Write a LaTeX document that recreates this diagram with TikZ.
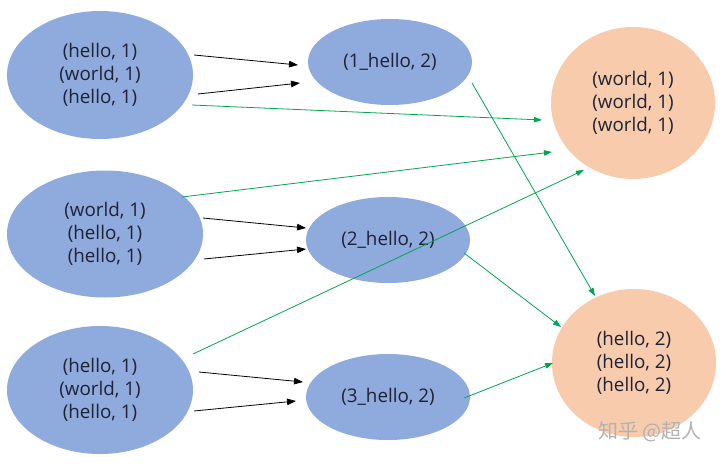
\documentclass[tikz,border=0pt]{standalone}
\usepackage{fontspec}
\setmainfont{Open Sans}
\newfontfamily\cjkfont{Noto Sans CJK SC}
\usetikzlibrary{shapes.geometric,arrows.meta}
\definecolor{ellblue}{HTML}{8FAADC}
\definecolor{ellorange}{HTML}{F8CBAD}
\definecolor{arrgreen}{HTML}{00A651}
\definecolor{txtdark}{HTML}{1E2235}
\tikzset{
  blob/.style={ellipse, draw=none, inner sep=0pt, align=center, text=txtdark,
    font=\fontsize{18.8}{22.8}\selectfont},
  src/.style={blob, fill=ellblue, minimum width=186pt, minimum height=128pt},
  mid/.style={blob, fill=ellblue, minimum width=164pt, minimum height=86pt},
  dst/.style={blob, fill=ellorange, minimum width=164pt, minimum height=150pt},
  blackarr/.style={draw=black, line width=0.8pt, -{Triangle[length=9pt,width=6.5pt]}},
  greenarr/.style={draw=arrgreen, line width=0.8pt, -{Triangle[length=8pt,width=5.5pt]}}
}
\begin{document}
\begin{tikzpicture}[x=1pt,y=-1pt]
\useasboundingbox (0,0) rectangle (725,463);
\fill[white] (0,0) rectangle (725,463);
% nodes
\node[src] (L1) at (100,75) {(hello, 1)\\(world, 1)\\(hello, 1)};
\node[src, minimum width=196pt, minimum height=127pt] (L2) at (105,234) {(world, 1)\\(hello, 1)\\(hello, 1)};
\node[src] (L3) at (100,390) {(hello, 1)\\(world, 1)\\(hello, 1)};
\node[mid] (M1) at (390,62) {(1\_hello, 2)};
\node[mid] (M2) at (388,240) {(2\_hello, 2)};
\node[mid] (M3) at (388,397) {(3\_hello, 2)};
\node[dst, minimum height=152pt] (R1) at (633,103) {(world, 1)\\(world, 1)\\(world, 1)};
\node[dst, minimum height=148pt] (R2) at (634,363) {(hello, 2)\\(hello, 2)\\(hello, 2)};
% connector end points
\coordinate (a1s) at (194,55);  \coordinate (a1e) at (298,65);
\coordinate (a2s) at (198,94);  \coordinate (a2e) at (300,83);
\coordinate (b1s) at (203,218); \coordinate (b1e) at (306,228);
\coordinate (b2s) at (204,259); \coordinate (b2e) at (306,249);
\coordinate (c1s) at (199,372); \coordinate (c1e) at (303,382);
\coordinate (c2s) at (194,411); \coordinate (c2e) at (296,401);
\coordinate (g1s) at (192,105); \coordinate (g1e) at (542,120);
\coordinate (g2s) at (182,197); \coordinate (g2e) at (552,152);
\coordinate (g3s) at (193,354); \coordinate (g3e) at (584,170);
\coordinate (g4s) at (472,83);  \coordinate (g4e) at (595,296);
\coordinate (g5s) at (464,253); \coordinate (g5e) at (561,327);
\coordinate (g6s) at (464,398); \coordinate (g6e) at (553,363);
% black arrows
\draw[blackarr] (a1s) -- (a1e);
\draw[blackarr] (a2s) -- (a2e);
\draw[blackarr] (b1s) -- (b1e);
\draw[blackarr] (b2s) -- (b2e);
\draw[blackarr] (c1s) -- (c1e);
\draw[blackarr] (c2s) -- (c2e);
% green arrows
\draw[greenarr] (g1s) -- (g1e);
\draw[greenarr] (g2s) -- (g2e);
\draw[greenarr] (g3s) -- (g3e);
\draw[greenarr] (g4s) -- (g4e);
\draw[greenarr] (g5s) -- (g5e);
\draw[greenarr] (g6s) -- (g6e);
% watermark
\node[text=black!30, font=\cjkfont\fontsize{20}{22}\selectfont, inner sep=0pt] (wm) at (650,432) {知乎 @超人};
\end{tikzpicture}
\end{document}
